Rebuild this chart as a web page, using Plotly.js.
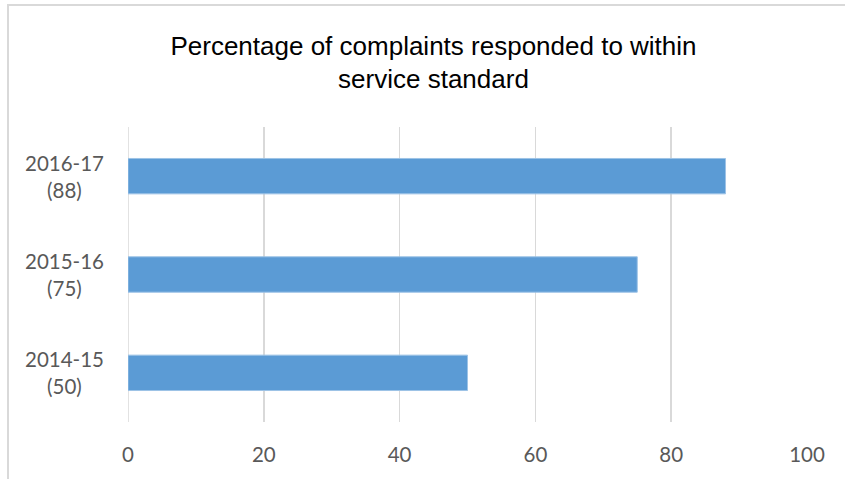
<!DOCTYPE html>
<html>
<head>
<meta charset="utf-8">
<script src="https://cdn.plot.ly/plotly-3.0.1.min.js"></script>
<style>
  html, body { margin: 0; padding: 0; background: #fff; overflow: hidden; }
  #wrap { position: relative; width: 845px; height: 479px; overflow: hidden; }
  #frame { position: absolute; left: 7px; top: 4px; width: 900px; height: 600px;
           border: 2px solid #D9D9D9; box-sizing: border-box; pointer-events: none; }
  #heading { position: absolute; left: -2px; top: -37px; font-family: "Liberation Sans", Arial, sans-serif;
             font-weight: bold; font-size: 33px; color: #000; white-space: nowrap; }
  #chart { position: absolute; left: 0; top: 0; width: 845px; height: 479px; }
</style>
</head>
<body>
<div id="wrap">
  <div id="heading">Response to complaints</div>
  <div id="frame"></div>
  <div id="chart"></div>
</div>
<script>
const years = ["2014-15", "2015-16", "2016-17"];
const values = [50, 75, 88];
const xTicks = [0, 20, 40, 60, 80, 100];
const titleText = "Percentage of complaints responded to within<br>service standard";

const categories = years.map((y, i) => y + "<br>(" + values[i] + ")");

const tickFont = { family: "Lato, Open Sans, sans-serif", size: 20.5, color: "#595959" };

const trace = {
  type: "bar",
  orientation: "h",
  x: values,
  y: categories,
  marker: { color: "#5B9BD5", line: { color: "#9DC3E6", width: 1 } },
  hoverinfo: "x+y"
};

const yLabels = categories.map(c => ({
  xref: "paper", yref: "y", x: -0.0928, y: c, text: c,
  xanchor: "center", yanchor: "middle", align: "center",
  showarrow: false, font: tickFont
}));

const layout = {
  width: 845,
  height: 479,
  margin: { l: 128, r: 38, t: 127, b: 57 },
  paper_bgcolor: "rgba(0,0,0,0)",
  plot_bgcolor: "rgba(0,0,0,0)",
  bargap: 0.64,
  showlegend: false,
  title: {
    text: titleText,
    font: { family: "Liberation Sans, Arial, sans-serif", size: 26, color: "#000" },
    x: 0.513, xanchor: "center",
    yref: "container", y: 0.886, yanchor: "middle"
  },
  xaxis: {
    range: [0, 100],
    tickvals: xTicks,
    ticktext: xTicks.map(String),
    showgrid: true,
    gridcolor: "#D9D9D9",
    gridwidth: 1.5,
    zeroline: false,
    showline: false,
    ticks: "",
    ticklabelstandoff: 18,
    tickfont: tickFont,
    fixedrange: true
  },
  yaxis: {
    type: "category",
    categoryorder: "array",
    categoryarray: categories,
    range: [-0.5, 2.5],
    showgrid: false,
    zeroline: false,
    showline: false,
    ticks: "",
    showticklabels: false,
    fixedrange: true
  },
  annotations: yLabels,
  shapes: [{
    type: "line", xref: "x", yref: "paper", x0: 0, x1: 0, y0: 0, y1: 1,
    line: { color: "#D9D9D9", width: 1.5 }, layer: "below"
  }]
};

Plotly.newPlot("chart", [trace], layout, { displayModeBar: false, staticPlot: true });
</script>
</body>
</html>
